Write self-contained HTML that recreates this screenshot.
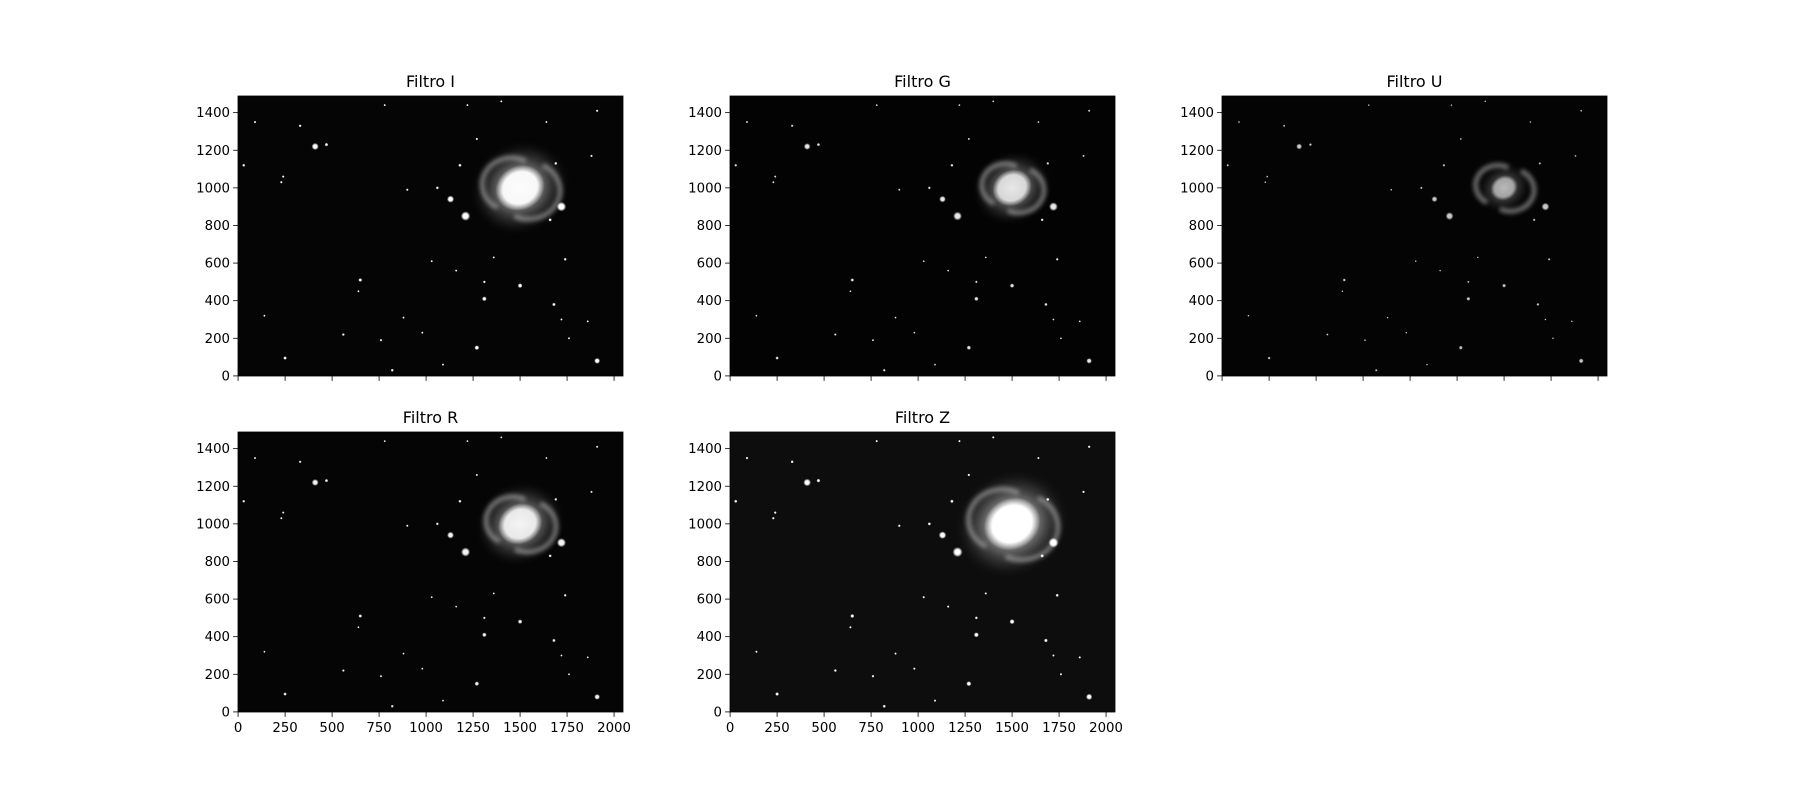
<!DOCTYPE html>
<html><head><meta charset="utf-8">
<style>
html,body{margin:0;padding:0;background:#fff;}
svg{display:block;}
text{font-family:"DejaVu Sans","Liberation Sans",sans-serif;fill:#000;}
</style></head>
<body>
<svg id="fig" width="1800" height="800" viewBox="0 0 1800 800" xmlns="http://www.w3.org/2000/svg">
<defs>
<radialGradient id="halo" cx="50%" cy="50%" r="50%">
<stop offset="0" stop-color="#fff" stop-opacity="0.85"/>
<stop offset="0.45" stop-color="#bbb" stop-opacity="0.55"/>
<stop offset="0.75" stop-color="#666" stop-opacity="0.25"/>
<stop offset="1" stop-color="#000" stop-opacity="0"/>
</radialGradient>
<radialGradient id="core" cx="50%" cy="50%" r="50%">
<stop offset="0" stop-color="#fff"/>
<stop offset="0.7" stop-color="#fff"/>
<stop offset="1" stop-color="#fff" stop-opacity="0"/>
</radialGradient>
<radialGradient id="starg" cx="50%" cy="50%" r="50%">
<stop offset="0" stop-color="#fff"/>
<stop offset="0.5" stop-color="#fff"/>
<stop offset="1" stop-color="#fff" stop-opacity="0"/>
</radialGradient>
<filter id="blur1" x="-50%" y="-50%" width="200%" height="200%"><feGaussianBlur stdDeviation="2.2"/></filter>
</defs>
</svg>
<script>
// data
const panelTitles = ["Filtro I","Filtro G","Filtro U","Filtro R","Filtro Z"];
const xTicks = [0,250,500,750,1000,1250,1500,1750,2000];
const yTicks = [0,200,400,600,800,1000,1200,1400];
const starX = [410,1130,1210,1720,1500,1310,1270,1910,250,650,1680,1740,1660,1180,470,1060,90,30,230,240,1030,1310,1690,1910,1270,1400,820,330,780,760,880,1160,1640,1760,1860,980,560,1360,140,1090,1720,1880,900,640,1220];
const starY = [1220,940,850,900,480,410,150,80,95,510,380,620,830,1120,1230,1000,1350,1120,1030,1060,610,500,1130,1410,1260,1460,30,1330,1440,190,310,560,1350,200,290,230,220,630,320,60,300,1170,990,450,1440];
const starMag = [3,3,4,4,2,2,2,2.5,1.5,1.6,1.5,1.3,1.4,1.4,1.5,1.3,1.1,1.3,1.1,1.1,1,1.2,1.3,1.1,1.1,1,1.3,1.2,1,1.1,1,1,1,1,1,1,1.2,1,1,1,1,1.1,1.1,1,1];
const galaxyX = 1500, galaxyY = 1000;
const bright = [1.0,0.8,0.55,0.9,1.15];
const bgFill = ["#050505","#030303","#040404","#050505","#0d0d0d"];

const NS="http://www.w3.org/2000/svg";
const svg=document.getElementById('fig');
const W=385,H=280;
const lefts=[238,730,1222,238,730];
const tops=[96,96,96,432,432];
function mk(t,a,p){const e=document.createElementNS(NS,t);for(const k in a)e.setAttribute(k,a[k]);(p||svg).appendChild(e);return e;}

panelTitles.forEach((title,i)=>{
  const L=lefts[i],T=tops[i];
  const sx=v=>L+(v+0.5)/2048*W;
  const sy=v=>T+H-(v+0.5)/1489*H;
  const kx=W/2048;
  const g=mk('g',{});
  
  
  const cp=mk('clipPath',{id:'cp'+i},g);
  mk('rect',{x:L,y:T,width:W,height:H},cp);
  const img=mk('g',{'clip-path':'url(#cp'+i+')'},g);
  
  
  mk('rect',{x:L,y:T,width:W,height:H,fill:bgFill[i]},img);
  const b=bright[i];
  const gx=sx(galaxyX),gy=sy(galaxyY);
  const halo=mk('ellipse',{cx:gx,cy:gy,rx:280*kx*b,ry:250*kx*b,fill:'url(#halo)',opacity:Math.min(1,b*0.9),transform:'rotate(-30 '+gx+' '+gy+')'},img);
  
  
  const R=150*kx*Math.max(0.75,b);
  const arms=mk('path',{d:'M'+(gx+R*0.8)+' '+(gy-R*0.8)+' A'+R+' '+R*0.9+' 0 0 1 '+(gx-R*0.2)+' '+(gy+R)+' M'+(gx-R*0.8)+' '+(gy+R*0.7)+' A'+R+' '+R*0.9+' 0 0 1 '+(gx+R*0.2)+' '+(gy-R*0.95),fill:'none',stroke:'#bbb','stroke-width':5,opacity:0.55,filter:'url(#blur1)'},img);
  
  
  const core=mk('ellipse',{cx:gx,cy:gy,rx:135*kx*b,ry:118*kx*b,fill:'url(#core)',opacity:Math.min(1,b*0.95),transform:'rotate(-30 '+gx+' '+gy+')'},img);
  
  
  starX.forEach((x,j)=>{
    const r=Math.max(0.8,starMag[j]*1.2*(0.6+0.4*b));
    const s=mk('circle',{cx:sx(x),cy:sy(starY[j]),r:r,fill:'url(#starg)',opacity:Math.min(1,0.5+0.5*b)},img);
    
    
  });
  const fr=mk('rect',{x:L,y:T,width:W,height:H,fill:'none',stroke:'#000','stroke-width':0.8},g);
  
  
  yTicks.forEach(v=>{
    const y=sy(v);
    mk('line',{x1:L-4.9,x2:L,y1:y,y2:y,stroke:'#000','stroke-width':0.8},g);
    const t=mk('text',{x:L-8,y:y+4.5,'text-anchor':'end','font-size':'13.3px'},g);
    t.textContent=v;
    
    
  });
  xTicks.forEach(v=>{
    const x=sx(v);
    mk('line',{x1:x,x2:x,y1:T+H,y2:T+H+4.9,stroke:'#000','stroke-width':0.8},g);
    if(i>=3){
      const t=mk('text',{x:x,y:T+H+20,'text-anchor':'middle','font-size':'13.3px'},g);
      t.textContent=v;
      
      
    }
  });
  const tt=mk('text',{x:L+W/2,y:T-9,'text-anchor':'middle','font-size':'16px'},g);
  tt.textContent=title;
  
  
});
</script>
</body></html>
